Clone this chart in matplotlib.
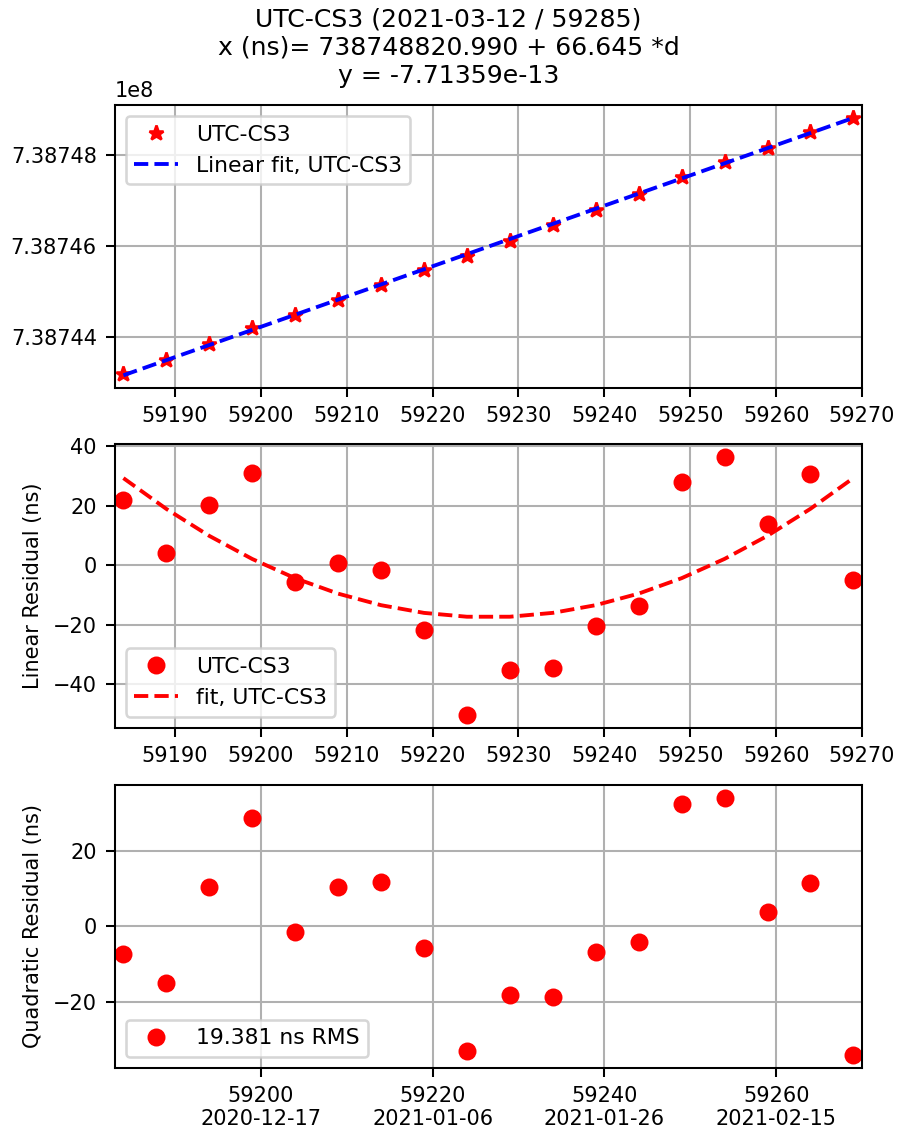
import datetime
import numpy as np
import matplotlib
matplotlib.use("Agg")
import matplotlib.pyplot as plt
from matplotlib.ticker import FuncFormatter, MultipleLocator

# MJD of each measurement
mjd = [59184, 59189, 59194, 59199, 59204, 59209, 59214, 59219, 59224,
       59229, 59234, 59239, 59244, 59249, 59254, 59259, 59264, 59269]

# raw UTC-CS3 offsets (ns)
x_ns = [738743178.2, 738743493.4, 738743842.8, 738744186.8, 738744483.4,
        738744823.2, 738745154.0, 738745467.1, 738745771.8, 738746120.0,
        738746453.8, 738746801.3, 738747141.3, 738747516.2, 738747857.6,
        738748168.3, 738748518.5, 738748816.1]

# residuals after linear fit (ns)
lin_res = [22.0, 4.0, 20.2, 31.0, -5.7, 0.9, -1.5, -21.6, -50.2,
           -35.2, -34.6, -20.3, -13.6, 28.1, 36.3, 13.8, 30.7, -4.9]

# residuals after quadratic fit (ns)
quad_res = [-7.3, -14.9, 10.3, 28.6, -1.5, 10.4, 11.8, -5.6, -32.7,
            -18.0, -18.5, -6.7, -4.1, 32.2, 33.9, 3.8, 11.5, -33.9]

bottom_ticks = [59200, 59220, 59240, 59260]
title = ("UTC-CS3 (2021-03-12 / 59285)\n"
         "x (ns)= 738748820.990 + 66.645 *d\n"
         "y = -7.71359e-13")
rms_label = "19.381 ns RMS"

plt.rcParams["font.size"] = 8.15
plt.rcParams["legend.fontsize"] = 8.5

mjd = np.array(mjd, dtype=float)
x_ns = np.array(x_ns)
t0 = mjd[-1]

p1 = np.polyfit(mjd - t0, x_ns, 1)
lin_fit = np.polyval(p1, mjd - t0)
p2 = np.polyfit(mjd - t0, lin_res, 2)
quad_fit = np.polyval(p2, mjd - t0)

DPI = 185
fig = plt.figure(figsize=(897 / DPI, 1135 / DPI), dpi=DPI)
ax1 = fig.add_axes([0.128, 0.658, 0.833, 0.2495])
ax2 = fig.add_axes([0.128, 0.359, 0.833, 0.2495])
ax3 = fig.add_axes([0.128, 0.059, 0.833, 0.2495])

xlim = (59183, 59270)

ax1.plot(mjd, x_ns, "r*", label="UTC-CS3")
ax1.plot(mjd, lin_fit, "b--", label="Linear fit, UTC-CS3")
ax1.ticklabel_format(axis="y", useOffset=False)
ax1.yaxis.set_major_locator(MultipleLocator(2000))
ax1.set_xlim(xlim)
ax1.grid(True)
ax1.legend(loc="upper left")

ax2.plot(mjd, lin_res, "ro", label="UTC-CS3")
ax2.plot(mjd, quad_fit, "r--", label="fit, UTC-CS3")
ax2.set_xlim(xlim)
ax2.set_ylabel("Linear Residual (ns)")
ax2.grid(True)
ax2.legend(loc="lower left")

ax3.plot(mjd, quad_res, "ro", label=rms_label)
ax3.set_xlim(xlim)
ax3.set_xticks(bottom_ticks)
mjd_epoch = datetime.date(1858, 11, 17)


def mjd_label(v, pos):
    d = mjd_epoch + datetime.timedelta(days=int(round(v)))
    return "%d\n%s" % (int(round(v)), d.isoformat())


ax3.xaxis.set_major_formatter(FuncFormatter(mjd_label))
ax3.set_ylabel("Quadratic Residual (ns)")
ax3.grid(True)
ax3.legend(loc="lower left")

fig.suptitle(title, y=0.993)
fig.savefig("out.png", dpi=DPI)
